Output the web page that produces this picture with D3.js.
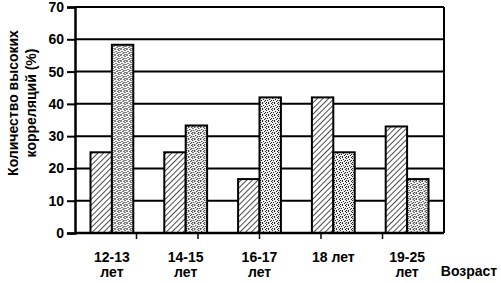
<!DOCTYPE html>
<html>
<head>
<meta charset="utf-8">
<script src="https://cdn.jsdelivr.net/npm/d3@7"></script>
<style>
  body { margin: 0; background: #fff; }
  svg { display: block; font-family: "Liberation Sans", Arial, sans-serif; }
</style>
</head>
<body>
<svg id="chart"></svg>
<script>
// age groups and values (%)
const categories = ['12-13 лет', '14-15 лет', '16-17 лет', '18 лет', '19-25 лет'];
const series1 = [25, 25, 16.7, 42, 33];      // hatched
const series2 = [58.3, 33.3, 42, 25, 16.7];  // stippled
const yTicks = [0, 10, 20, 30, 40, 50, 60, 70];
const xTickCount = 6;

class ageBarChart {
    constructor(_config) {
        this.config = {
            parentElement: _config.parentElement,
            containerWidth: _config.containerWidth || 501,
            containerHeight: _config.containerHeight || 283,
            margin: {top: 7, right: 57, bottom: 50, left: 75}
        };
        this.initVis();
    }

    initVis() {
        let vis = this;
        vis.width = vis.config.containerWidth - vis.config.margin.left - vis.config.margin.right;
        vis.height = vis.config.containerHeight - vis.config.margin.top - vis.config.margin.bottom;

        vis.svg = d3.select(vis.config.parentElement)
            .attr('width', vis.config.containerWidth)
            .attr('height', vis.config.containerHeight);

        // fill patterns
        const defs = vis.svg.append('defs');
        const hatch = defs.append('pattern')
            .attr('id', 'hatch')
            .attr('patternUnits', 'userSpaceOnUse')
            .attr('width', 4).attr('height', 4)
            .attr('patternTransform', 'rotate(45)');
        hatch.append('rect').attr('width', 4).attr('height', 4).attr('fill', '#fff');
        hatch.append('line')
            .attr('x1', 0).attr('y1', 0).attr('x2', 0).attr('y2', 4)
            .attr('stroke', '#000').attr('stroke-width', 1.4);

        const dots = defs.append('pattern')
            .attr('id', 'dots')
            .attr('patternUnits', 'userSpaceOnUse')
            .attr('width', 6).attr('height', 6);
        dots.append('rect').attr('width', 6).attr('height', 6).attr('fill', '#f4f4f4');
        [[0, 0], [3, 0], [1, 2], [4, 1], [2, 4], [5, 3], [0, 5], [4, 5], [3, 3]].forEach(p => {
            dots.append('rect').attr('x', p[0]).attr('y', p[1])
                .attr('width', 1).attr('height', 1).attr('fill', '#111');
        });

        vis.chart = vis.svg.append('g')
            .attr('transform', `translate(${vis.config.margin.left},${vis.config.margin.top})`);

        vis.yScale = d3.scaleLinear()
            .domain([0, 70])
            .range([vis.height, 0]);

        vis.xScale = d3.scaleBand()
            .domain(categories)
            .range([0, vis.width])
            .paddingInner(0.42)
            .paddingOuter(0.21);

        vis.xSub = d3.scaleBand()
            .domain(['a', 'b'])
            .range([0, vis.xScale.bandwidth()]);

        // tick marks on the category axis sit on their own even spacing
        vis.xTickScale = d3.scaleLinear()
            .domain([0, xTickCount])
            .range([0, vis.width]);

        vis.yAxis = d3.axisLeft(vis.yScale)
            .tickValues(yTicks)
            .tickSize(8)
            .tickPadding(3);

        vis.renderVis();
    }

    renderVis() {
        let vis = this;

        // horizontal grid
        vis.chart.selectAll('.grid')
            .data(yTicks.slice(1))
            .join('line')
            .attr('class', 'grid')
            .attr('x1', 0).attr('x2', vis.width)
            .attr('y1', d => vis.yScale(d)).attr('y2', d => vis.yScale(d))
            .attr('stroke', '#000').attr('stroke-width', 2);

        // right border
        vis.chart.append('line')
            .attr('x1', vis.width).attr('x2', vis.width)
            .attr('y1', 0).attr('y2', vis.height)
            .attr('stroke', '#000').attr('stroke-width', 2);

        const groups = vis.chart.selectAll('.group')
            .data(categories)
            .join('g')
            .attr('class', 'group')
            .attr('transform', d => `translate(${vis.xScale(d)},0)`);

        groups.append('rect')
            .attr('x', vis.xSub('a'))
            .attr('y', (d, i) => vis.yScale(series1[i]))
            .attr('width', vis.xSub.bandwidth())
            .attr('height', (d, i) => vis.height - vis.yScale(series1[i]))
            .attr('fill', 'url(#hatch)')
            .attr('stroke', '#000').attr('stroke-width', 2);

        groups.append('rect')
            .attr('x', vis.xSub('b'))
            .attr('y', (d, i) => vis.yScale(series2[i]))
            .attr('width', vis.xSub.bandwidth())
            .attr('height', (d, i) => vis.height - vis.yScale(series2[i]))
            .attr('fill', 'url(#dots)')
            .attr('stroke', '#000').attr('stroke-width', 2);

        // y axis
        const yAxisG = vis.chart.append('g').call(vis.yAxis);
        yAxisG.select('.domain').attr('stroke-width', 2.5);
        yAxisG.selectAll('.tick line').attr('stroke-width', 2);
        yAxisG.selectAll('.tick text')
            .attr('font-size', 14).attr('font-weight', 'bold').attr('fill', '#000')
            .attr('font-family', '"Liberation Sans", Arial, sans-serif');

        // x axis line and ticks
        vis.chart.append('line')
            .attr('x1', 0).attr('x2', vis.width)
            .attr('y1', vis.height).attr('y2', vis.height)
            .attr('stroke', '#000').attr('stroke-width', 2.5);
        vis.chart.selectAll('.xtick')
            .data(d3.range(1, xTickCount))
            .join('line')
            .attr('class', 'xtick')
            .attr('x1', d => vis.xTickScale(d)).attr('x2', d => vis.xTickScale(d))
            .attr('y1', vis.height).attr('y2', vis.height + 6)
            .attr('stroke', '#000').attr('stroke-width', 1.5);

        // category labels (two lines where the original wraps)
        const labels = vis.chart.selectAll('.xlabel')
            .data(categories)
            .join('text')
            .attr('class', 'xlabel')
            .attr('text-anchor', 'middle')
            .attr('font-size', 14)
            .attr('font-weight', 'bold')
            .attr('transform', d => `translate(${vis.xScale(d) + vis.xScale.bandwidth() / 2},${vis.height + 29})`);
        labels.each(function(d) {
            const parts = d.split(' ');
            const el = d3.select(this);
            if (parts[0] === '18') {
                el.append('tspan').attr('x', 0).attr('dy', 0).text(d);
            } else {
                el.append('tspan').attr('x', 0).attr('dy', 0).text(parts[0]);
                el.append('tspan').attr('x', 0).attr('dy', 15).text(parts[1]);
            }
        });

        // axis titles
        vis.svg.append('text')
            .attr('x', 469).attr('y', 276)
            .attr('text-anchor', 'middle')
            .attr('font-size', 14).attr('font-weight', 'bold')
            .text('Возраст');

        const yTitle = vis.svg.append('text')
            .attr('transform', 'translate(0,103) rotate(-90)')
            .attr('text-anchor', 'middle')
            .attr('font-size', 14).attr('font-weight', 'bold');
        yTitle.append('tspan').attr('x', 0).attr('y', 18).text('Количество высоких');
        yTitle.append('tspan').attr('x', 0).attr('y', 36).text('корреляций (%)');
    }
}

new ageBarChart({parentElement: '#chart'});
</script>
</body>
</html>
